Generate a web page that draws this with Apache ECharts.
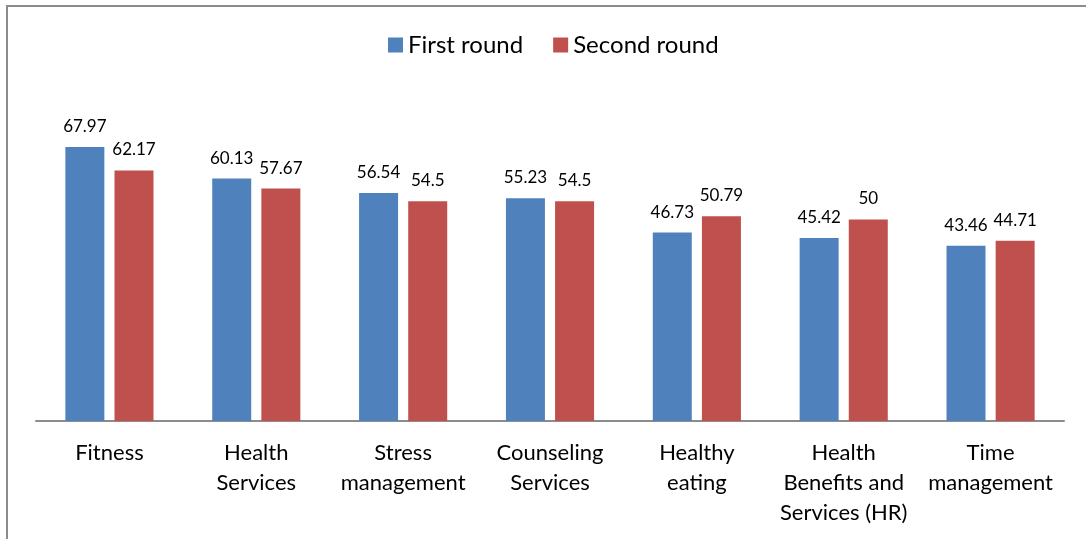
<!DOCTYPE html>
<html>
<head>
<meta charset="utf-8">
<script src="https://cdn.jsdelivr.net/npm/echarts@6/dist/echarts.min.js"></script>
<style>
  html, body { margin: 0; padding: 0; background: #fff; }
  #main { width: 1086px; height: 539px; }
</style>
</head>
<body>
<div id="main"></div>
<script>
// survey results, two rounds
var categories = [
  "Fitness",
  "Health\nServices",
  "Stress\nmanagement",
  "Counseling\nServices",
  "Healthy\neating",
  "Health\nBenefits and\nServices (HR)",
  "Time\nmanagement"
];
var firstRound = [67.97, 60.13, 56.54, 55.23, 46.73, 45.42, 43.46];
var secondRound = [62.17, 57.67, 54.5, 54.5, 50.79, 50, 44.71];

var font = "Lato";
var chart = echarts.init(document.getElementById("main"));

var barLabel = {
  show: true,
  position: "top",
  distance: 12,
  color: "#000",
  fontFamily: font,
  fontSize: 17
};

var option = {
  animation: false,
  textStyle: { fontFamily: font },
  // frame: only top and left edges visible in the picture
  graphic: [
    {
      type: "polyline",
      shape: { points: [[7, 539], [7, 6], [1086, 6]] },
      style: { stroke: "#8c8c8c", lineWidth: 2, fill: null }
    }
  ],
  legend: {
    left: 383,
    top: 28,
    icon: "rect",
    itemWidth: 15,
    itemHeight: 15,
    itemGap: 30,
    textStyle: { fontFamily: font, fontSize: 24, color: "#000" },
    data: ["First round", "Second round"]
  },
  grid: { left: 36, right: 22, top: 98.5, bottom: 118 },
  xAxis: {
    type: "category",
    data: categories,
    axisLine: { lineStyle: { color: "#8c8c8c", width: 2 } },
    axisTick: { show: false },
    axisLabel: {
      interval: 0,
      margin: 17,
      color: "#000",
      fontFamily: font,
      fontSize: 22,
      lineHeight: 30
    }
  },
  yAxis: {
    type: "value",
    min: 0,
    max: 80,
    show: false,
    splitLine: { show: false }
  },
  series: [
    {
      name: "First round",
      type: "bar",
      data: firstRound,
      barWidth: 39,
      barGap: "26%",
      itemStyle: { color: "#4F81BD" },
      label: barLabel
    },
    {
      name: "Second round",
      type: "bar",
      data: secondRound,
      barWidth: 39,
      itemStyle: { color: "#C0504D" },
      label: barLabel
    }
  ]
};
chart.setOption(option);
</script>
</body>
</html>
